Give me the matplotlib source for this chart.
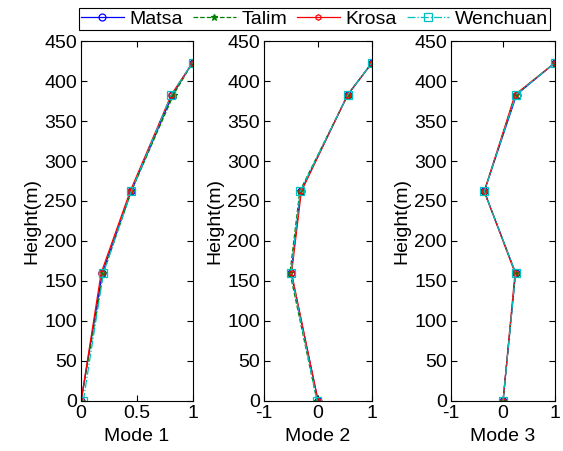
import numpy as np
import matplotlib.pyplot as plt

plt.rcParams['font.family'] = ['Liberation Sans', 'DejaVu Sans']
plt.rcParams['font.size'] = 14
plt.rcParams['axes.unicode_minus'] = False

heights = [0, 160, 262, 383, 423]
names = ['Matsa', 'Talim', 'Krosa', 'Wenchuan']

mode1 = {'Matsa':    [0.0, 0.19, 0.45, 0.82, 1.0],
         'Talim':    [0.0, 0.20, 0.45, 0.83, 1.0],
         'Krosa':    [0.0, 0.18, 0.44, 0.81, 1.0],
         'Wenchuan': [0.02, 0.20, 0.45, 0.81, 1.0]}
mode2 = {'Matsa':    [0.0, -0.50, -0.32, 0.55, 1.0],
         'Talim':    [-0.02, -0.52, -0.34, 0.55, 1.0],
         'Krosa':    [0.0, -0.49, -0.31, 0.55, 1.0],
         'Wenchuan': [-0.02, -0.50, -0.33, 0.55, 1.0]}
mode3 = {'Matsa':    [0.0, 0.24, -0.36, 0.26, 1.0],
         'Talim':    [0.0, 0.24, -0.36, 0.24, 1.0],
         'Krosa':    [0.0, 0.23, -0.36, 0.23, 1.0],
         'Wenchuan': [0.0, 0.24, -0.36, 0.25, 1.0]}

styles = {'Matsa':    dict(color='b', ls='-', marker='o', mfc='none', ms=5),
          'Talim':    dict(color='g', ls='--', marker='*', ms=5),
          'Krosa':    dict(color='r', ls='-', marker='h', mfc='none', ms=4),
          'Wenchuan': dict(color='c', ls='-.', marker='s', mfc='none', ms=6)}

fig = plt.figure(figsize=(5.63, 4.51), dpi=100)
pos = [[0.144, 0.111, 0.198, 0.798],
       [0.469, 0.111, 0.192, 0.798],
       [0.801, 0.111, 0.185, 0.798]]
modes = [mode1, mode2, mode3]
xlims = [(0, 1), (-1, 1), (-1, 1)]
lines = []
for i in range(3):
    ax = fig.add_axes(pos[i])
    for n in names:
        l, = ax.plot(modes[i][n], heights, lw=0.9, mew=0.9, label=n, **styles[n])
        if i == 0:
            lines.append(l)
    ax.set_xlim(*xlims[i])
    ax.set_ylim(0, 450)
    ax.set_yticks(range(0, 451, 50))
    ax.set_xticks([0, 0.5, 1] if i == 0 else [-1, 0, 1])
    if i == 0:
        ax.set_xticklabels(['0', '0.5', '1'])
    ax.tick_params(direction='in', top=True, right=True, length=4, pad=3)
    ax.set_xlabel('Mode %d' % (i + 1), labelpad=4)
    ax.set_ylabel('Height(m)', labelpad=3)

fig.legend(lines, names, loc='upper center', ncol=4, bbox_to_anchor=(0.559, 0.982),
           frameon=True, fancybox=False, edgecolor='k', framealpha=1,
           handlelength=2.2, columnspacing=0.5, handletextpad=0.3,
           borderpad=0.1, borderaxespad=0, fontsize=14).get_frame().set_linewidth(0.8)

fig.savefig('out.png', dpi=100)
